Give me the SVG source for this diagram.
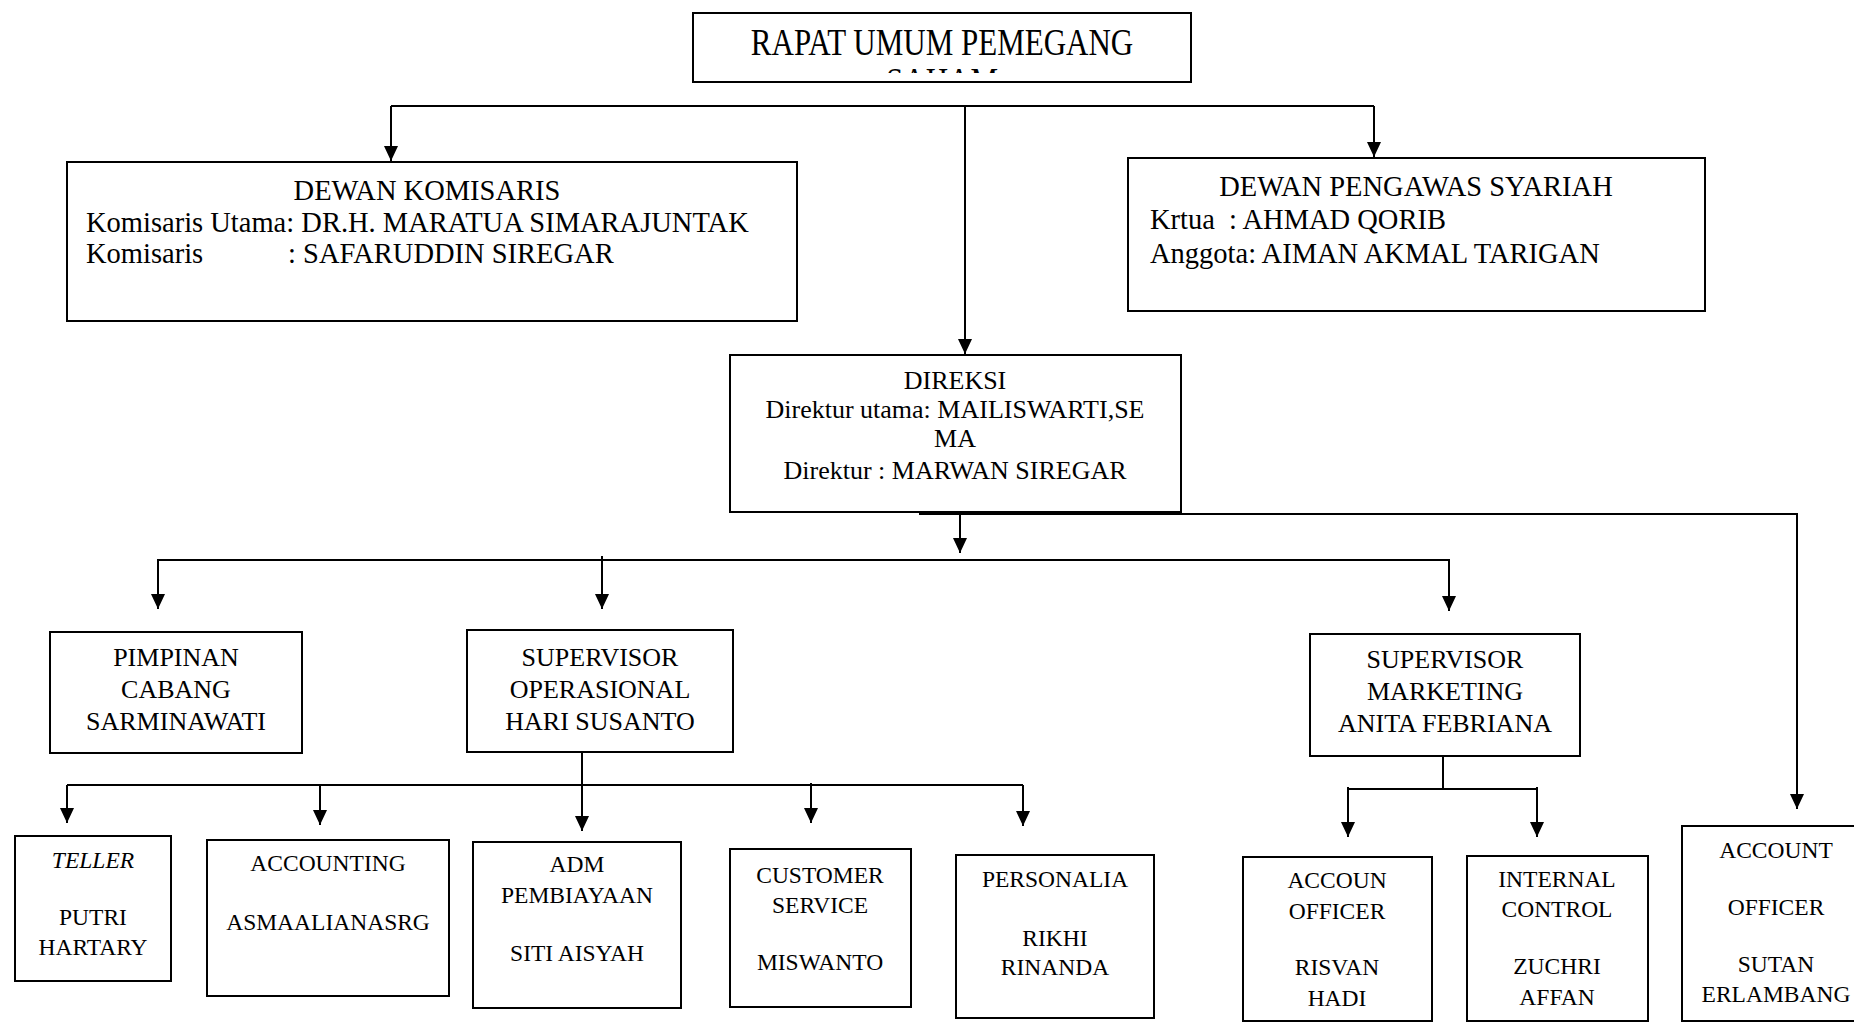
<svg xmlns="http://www.w3.org/2000/svg" width="1854" height="1023" viewBox="0 0 1854 1023">
<defs>
<style>
.box{fill:#fff;stroke:#000;stroke-width:2}
.ln{fill:none;stroke:#000;stroke-width:2}
.t{font-family:"Liberation Serif","Times New Roman",serif;fill:#000}
.c{text-anchor:middle}
.f28{font-size:28.5px}
.f26{font-size:26px}
.f23{font-size:23.5px}
</style>
<marker id="ah" viewBox="0 0 15 14" refX="15" refY="7" markerWidth="15" markerHeight="14" markerUnits="userSpaceOnUse" orient="auto">
<path d="M0,0 L15,7 L0,14 z" fill="#000"/>
</marker>
<clipPath id="rupsclip"><rect x="694" y="14" width="496" height="59"/></clipPath>
</defs>
<rect width="1854" height="1023" fill="#fff"/>

<g id="connectors">
<path class="ln" d="M391,106 H1374"/>
<path class="ln" d="M391,106 V161" marker-end="url(#ah)"/>
<path class="ln" d="M1374,106 V157" marker-end="url(#ah)"/>
<path class="ln" d="M965,106 V354" marker-end="url(#ah)"/>
<path class="ln" d="M919,514 H1797 V809" marker-end="url(#ah)"/>
<path class="ln" d="M960,514 V553" marker-end="url(#ah)"/>
<path class="ln" d="M157,560 H1450"/>
<path class="ln" d="M158,560 V609" marker-end="url(#ah)"/>
<path class="ln" d="M602,556 V609" marker-end="url(#ah)"/>
<path class="ln" d="M1449,560 V611" marker-end="url(#ah)"/>
<path class="ln" d="M582,752 V785"/>
<path class="ln" d="M67,785 H1023"/>
<path class="ln" d="M67,785 V823" marker-end="url(#ah)"/>
<path class="ln" d="M320,785 V825" marker-end="url(#ah)"/>
<path class="ln" d="M582,785 V831" marker-end="url(#ah)"/>
<path class="ln" d="M811,783 V823" marker-end="url(#ah)"/>
<path class="ln" d="M1023,785 V826" marker-end="url(#ah)"/>
<path class="ln" d="M1443,756 V789"/>
<path class="ln" d="M1348,789 H1537"/>
<path class="ln" d="M1348,787 V837" marker-end="url(#ah)"/>
<path class="ln" d="M1537,787 V837" marker-end="url(#ah)"/>
</g>

<g id="rups">
<rect class="box" x="693" y="13" width="498" height="69"/>
<g clip-path="url(#rupsclip)">
<text class="t c" font-size="31" transform="translate(942,55) scale(1,1.25)" x="0" y="0">RAPAT UMUM PEMEGANG</text>
<text class="t c" font-size="31" transform="translate(942,94) scale(1,1.25)" x="0" y="0">SAHAM</text>
</g>
</g>

<g id="dewan-komisaris">
<rect class="box" x="67" y="162" width="730" height="159"/>
<text class="t c f28" x="427" y="200">DEWAN KOMISARIS</text>
<text class="t f28" x="86" y="232">Komisaris Utama: DR.H. MARATUA SIMARAJUNTAK</text>
<text class="t f28" x="86" y="263">Komisaris</text>
<text class="t f28" x="288" y="263">: SAFARUDDIN SIREGAR</text>
</g>

<g id="dewan-pengawas-syariah">
<rect class="box" x="1128" y="158" width="577" height="153"/>
<text class="t c f28" x="1416" y="196">DEWAN PENGAWAS SYARIAH</text>
<text class="t f28" x="1150" y="229">Krtua</text>
<text class="t f28" x="1229" y="229">: AHMAD QORIB</text>
<text class="t f28" x="1150" y="263">Anggota: AIMAN AKMAL TARIGAN</text>
</g>

<g id="direksi">
<rect class="box" x="730" y="355" width="451" height="157"/>
<text class="t c f26" x="955" y="389">DIREKSI</text>
<text class="t c f26" x="955" y="418">Direktur utama: MAILISWARTI,SE</text>
<text class="t c f26" x="955" y="447">MA</text>
<text class="t c f26" x="955" y="479">Direktur : MARWAN SIREGAR</text>
</g>

<g id="pimpinan-cabang">
<rect class="box" x="50" y="632" width="252" height="121"/>
<text class="t c f26" x="176" y="666">PIMPINAN</text>
<text class="t c f26" x="176" y="698">CABANG</text>
<text class="t c f26" x="176" y="730">SARMINAWATI</text>
</g>

<g id="supervisor-operasional">
<rect class="box" x="467" y="630" width="266" height="122"/>
<text class="t c f26" x="600" y="666">SUPERVISOR</text>
<text class="t c f26" x="600" y="698">OPERASIONAL</text>
<text class="t c f26" x="600" y="730">HARI SUSANTO</text>
</g>

<g id="supervisor-marketing">
<rect class="box" x="1310" y="634" width="270" height="122"/>
<text class="t c f26" x="1445" y="668">SUPERVISOR</text>
<text class="t c f26" x="1445" y="700">MARKETING</text>
<text class="t c f26" x="1445" y="732">ANITA FEBRIANA</text>
</g>

<g id="teller">
<rect class="box" x="15" y="836" width="156" height="145"/>
<text class="t c f23" x="93" y="868" font-style="italic">TELLER</text>
<text class="t c f23" x="93" y="925">PUTRI</text>
<text class="t c f23" x="93" y="955">HARTARY</text>
</g>

<g id="accounting">
<rect class="box" x="207" y="840" width="242" height="156"/>
<text class="t c f23" x="328" y="871">ACCOUNTING</text>
<text class="t c f23" x="328" y="930">ASMAALIANASRG</text>
</g>

<g id="adm-pembiayaan">
<rect class="box" x="473" y="842" width="208" height="166"/>
<text class="t c f23" x="577" y="872">ADM</text>
<text class="t c f23" x="577" y="903">PEMBIAYAAN</text>
<text class="t c f23" x="577" y="961">SITI AISYAH</text>
</g>

<g id="customer-service">
<rect class="box" x="730" y="849" width="181" height="158"/>
<text class="t c f23" x="820" y="883">CUSTOMER</text>
<text class="t c f23" x="820" y="913">SERVICE</text>
<text class="t c f23" x="820" y="970">MISWANTO</text>
</g>

<g id="personalia">
<rect class="box" x="956" y="855" width="198" height="163"/>
<text class="t c f23" x="1055" y="887">PERSONALIA</text>
<text class="t c f23" x="1055" y="946">RIKHI</text>
<text class="t c f23" x="1055" y="975">RINANDA</text>
</g>

<g id="accoun-officer">
<rect class="box" x="1243" y="857" width="189" height="164"/>
<text class="t c f23" x="1337" y="888">ACCOUN</text>
<text class="t c f23" x="1337" y="919">OFFICER</text>
<text class="t c f23" x="1337" y="975">RISVAN</text>
<text class="t c f23" x="1337" y="1006">HADI</text>
</g>

<g id="internal-control">
<rect class="box" x="1467" y="856" width="181" height="165"/>
<text class="t c f23" x="1557" y="887">INTERNAL</text>
<text class="t c f23" x="1557" y="917">CONTROL</text>
<text class="t c f23" x="1557" y="974">ZUCHRI</text>
<text class="t c f23" x="1557" y="1005">AFFAN</text>
</g>

<g id="account-officer">
<rect class="box" x="1682" y="826" width="190" height="195"/>
<text class="t c f23" x="1776" y="858">ACCOUNT</text>
<text class="t c f23" x="1776" y="915">OFFICER</text>
<text class="t c f23" x="1776" y="972">SUTAN</text>
<text class="t c f23" x="1776" y="1002">ERLAMBANG</text>
</g>
</svg>
